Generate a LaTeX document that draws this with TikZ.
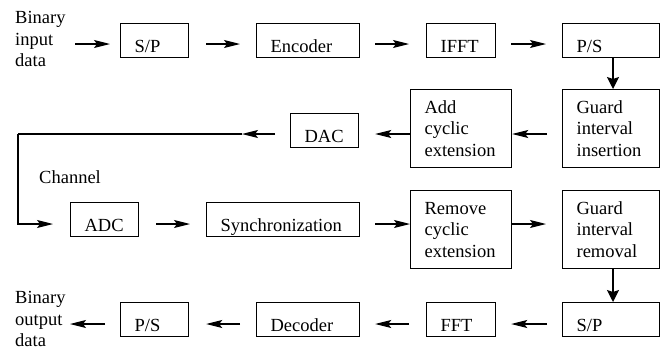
\documentclass[tikz,border=0pt]{standalone}
\usepackage{fontspec}
\setmainfont{Liberation Serif}
\usetikzlibrary{arrows.meta}
\begin{document}
\begin{tikzpicture}[x=1pt,y=-1pt,
  every node/.style={font=\fontsize{18.5}{21.5}\selectfont},
  blk/.style={draw, line width=1.2pt, anchor=north west, inner xsep=14pt,
    inner ysep=0pt, align=left},
  one/.style={blk, minimum height=34pt, text height=24pt, text depth=0pt},
  three/.style={blk, minimum height=78pt},
  lbl/.style={inner sep=0pt, align=left},
  harr/.style={line width=1.2pt, -{Stealth[length=16pt,width=8pt,inset=3pt]}},
  varr/.style={line width=1.2pt, -{Stealth[length=12pt,width=12pt,inset=2pt]}},
  wire/.style={line width=1.2pt}
]
\useasboundingbox (0,0) rectangle (668,354);

% arrow levels of the four rows and the vertical column on the right
\coordinate (rowA) at (0,44);
\coordinate (rowB) at (0,134);
\coordinate (rowC) at (0,224);
\coordinate (rowD) at (0,324);
\coordinate (colR) at (613,0);

% transmitter, first row
\node[one, text width=40pt] (sp1)  at (120,23) {S/P};
\node[one, text width=75pt] (enc)  at (256,23) {Encoder};
\node[one, text width=41pt] (ifft) at (426,23) {IFFT};
\node[one, text width=69pt] (ps1)  at (562,23) {P/S};

% transmitter, second row
\node[three, text width=69pt] (gii) at (562,89) {Guard\\interval\\insertion};
\node[three, text width=73pt] (ace) at (410,89) {Add\\cyclic\\extension};
\node[one, text width=40pt]   (dac) at (290,113) {DAC};

% receiver, third row
\node[one, text width=40pt]   (adc)  at (70,202)  {ADC};
\node[one, text width=125pt]  (sync) at (206,202) {Synchronization};
\node[three, text width=73pt] (rce)  at (410,190) {Remove\\cyclic\\extension};
\node[three, text width=69pt] (gir)  at (562,190) {Guard\\interval\\removal};

% receiver, fourth row
\node[one, text width=69pt] (sp2) at (562,302) {S/P};
\node[one, text width=41pt] (fft) at (426,302) {FFT};
\node[one, text width=75pt] (dec) at (256,302) {Decoder};
\node[one, text width=40pt] (ps2) at (120,302) {P/S};

% free labels
\node[lbl, anchor=north west] (inlbl)  at (15,11.5)  {Binary\\input\\data};
\node[lbl, anchor=north west] (outlbl) at (15,291.5) {Binary\\output\\data};
\node[lbl, anchor=base west]  (chan)   at (39,183)   {Channel};

% first row connectors
\coordinate (inStart) at (75,44);
\draw[harr, shorten >=10pt] (inStart) -- (sp1.west |- rowA);
\draw[harr, shorten <=17pt, shorten >=16pt] (sp1.east |- rowA) -- (enc.west |- rowA);
\draw[harr, shorten <=15pt, shorten >=17pt] (enc.east |- rowA) -- (ifft.west |- rowA);
\draw[harr, shorten <=15pt, shorten >=16pt] (ifft.east |- rowA) -- (ps1.west |- rowA);
\draw[varr] (ps1.south -| colR) -- (gii.north -| colR);

% second row connectors
\draw[harr, shorten <=15pt] (gii.west |- rowB) -- (ace.east |- rowB);
\draw[harr, shorten >=16pt] (ace.west |- rowB) -- (dac.east |- rowB);
\coordinate (chTip) at (242,134);
\coordinate (chCorner) at (18,134);
\draw[harr, shorten <=15pt] (dac.west |- rowB) -- (chTip);
\draw[wire] (chTip) -- (chCorner);
\draw[harr, shorten >=17pt] (chCorner) |- (adc.west |- rowC);

% third row connectors
\draw[harr, shorten <=17pt, shorten >=16pt] (adc.east |- rowC) -- (sync.west |- rowC);
\draw[harr, shorten <=15pt] (sync.east |- rowC) -- (rce.west |- rowC);
\draw[harr, shorten >=16pt] (rce.east |- rowC) -- (gir.west |- rowC);
\draw[varr] (gir.south -| colR) -- (sp2.north -| colR);

% fourth row connectors
\draw[harr, shorten <=15pt, shorten >=15pt] (sp2.west |- rowD) -- (fft.east |- rowD);
\draw[harr, shorten <=17pt, shorten >=15pt] (fft.west |- rowD) -- (dec.east |- rowD);
\draw[harr, shorten <=16pt, shorten >=17pt] (dec.west |- rowD) -- (ps2.east |- rowD);
\coordinate (outTip) at (70,324);
\draw[harr, shorten <=15pt] (ps2.west |- rowD) -- (outTip);
\end{tikzpicture}
\end{document}
